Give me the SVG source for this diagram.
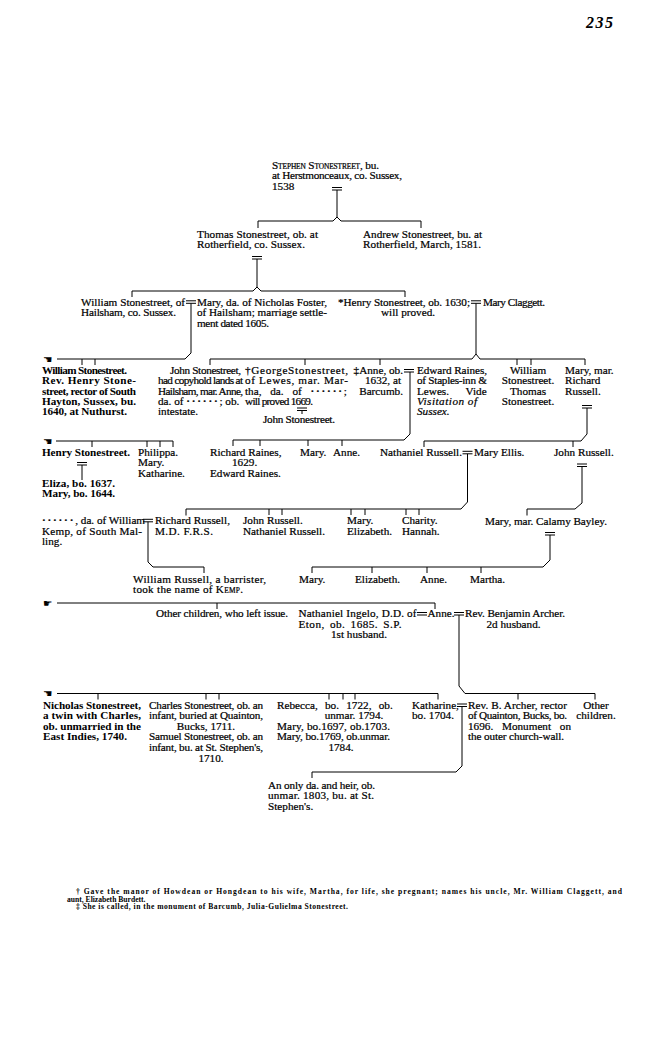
<svg xmlns="http://www.w3.org/2000/svg" xmlns:xlink="http://www.w3.org/1999/xlink" width="650" height="1040" viewBox="0 0 650 1040">
<style>
text { font-family: "Liberation Serif", "Times New Roman", serif; font-size: 11.2px; fill: #000; stroke: #000; stroke-width: 0.22px; }
.b { font-weight: bold; stroke-width: 0; }
.i { font-style: italic; }
.m { text-anchor: middle; }
.e { text-anchor: end; }
.sc { font-size: 7.4px; }
.dots { letter-spacing: 1.8px; font-weight: bold; }
.fn { font-size: 7.6px; font-weight: bold; stroke-width: 0; }
.pg { font-size: 16px; font-weight: bold; font-style: italic; stroke-width: 0; }
.hand { font-family: "DejaVu Sans", sans-serif; font-size: 10.5px; stroke-width: 0; }
#connectors path { stroke: #000; stroke-width: 1; fill: none; }
</style>
<defs>
<path id="eq" d="M0,0 H10 M0,2.5 H10" stroke="#000" stroke-width="1" fill="none"/>
</defs>
<rect width="650" height="1040" fill="#fff"/>
<text class="pg" x="586" y="28" textLength="27">235</text>

<g id="connectors">
<use xlink:href="#eq" x="332" y="187.5"/>
<path d="M337,190 V217"/>
<path d="M258,228 V221 H333 L337,217 L341,221 H421 V228"/>
<use xlink:href="#eq" x="252" y="256.5"/>
<path d="M257,259 V287"/>
<path d="M132,297 V291 H253 L257,287 L261,291 H405 V297"/>
<use xlink:href="#eq" x="186" y="300.8"/>
<path d="M191,303.3 V353 L185,359 H57"/>
<path d="M82,359 V365 M95,359 V365"/>
<use xlink:href="#eq" x="471" y="300.8"/>
<path d="M476,303.3 V354"/>
<path d="M210,365 V359 H472 L476,354 L480,359 H585 V365"/>
<path d="M305,359 V365 M380,359 V365 M517,359 V365 M531,359 V365"/>
<use xlink:href="#eq" x="297" y="408"/>
<path d="M302,410.5 V414"/>
<use xlink:href="#eq" x="404" y="369.5"/>
<path d="M410,372 V434 L404,440 H233 V446"/>
<path d="M260,440 V446 M308,440 V446 M342,440 V446"/>
<use xlink:href="#eq" x="582" y="405.5"/>
<path d="M587,408 V434 L581,441 H424 V447"/>
<path d="M573,441 V447"/>
<path d="M56,441 H173 V447 M92,441 V447 M147,441 V447 M160,441 V447"/>
<use xlink:href="#eq" x="77" y="462.5"/>
<path d="M82,465 V480"/>
<use xlink:href="#eq" x="462.5" y="451.3"/>
<path d="M467.5,453.8 V502 L461,509 H186 V515.5"/>
<path d="M269,509 V515 M282,509 V515 M351,509 V515 M365,509 V515 M406,509 V515 M419,509 V515"/>
<use xlink:href="#eq" x="577" y="464"/>
<path d="M582,466.5 V503 L575,509 H527 V515.5"/>
<use xlink:href="#eq" x="143" y="519.3"/>
<path d="M148,521.8 V562 L153,567 H204 V573"/>
<use xlink:href="#eq" x="545" y="532.5"/>
<path d="M550,535 V560 L543,567 H312 V573"/>
<path d="M372,567 V573 M427,567 V573 M481,567 V573"/>
<path d="M57,603 H435 V609 M217,603 V609"/>
<use xlink:href="#eq" x="417" y="612.5"/>
<use xlink:href="#eq" x="454" y="612.5"/>
<path d="M459,615 V686 L465,693.5 H595 V699.5 M518,693.5 V699.5"/>
<path d="M57,693.5 H438 V699.5 M98,693.5 V699.5 M206,693.5 V699.5 M219,693.5 V699.5 M329,693.5 V699.5 M343,693.5 V699.5 M355,693.5 V699.5"/>
<use xlink:href="#eq" x="457" y="704"/>
<path d="M462,706.5 V766 L456,772 H312 V778"/>
</g>

<g id="hands">
<text class="hand" x="43" y="362.5">☚</text>
<text class="hand" x="43" y="444.5">☚</text>
<text class="hand" x="43" y="606.5">☛</text>
<text class="hand" x="43" y="697">☚</text>
</g>

<g id="stephen">
<text x="272" y="168.5" textLength="107">S<tspan class="sc">TEPHEN</tspan> S<tspan class="sc">TONESTREET</tspan>, bu.</text>
<text x="272" y="179" textLength="130">at Herstmonceaux, co. Sussex,</text>
<text x="272" y="189.5">1538</text>
</g>
<g id="thomas">
<text x="197" y="237.5" textLength="121">Thomas Stonestreet, ob. at</text>
<text x="197" y="248" textLength="108">Rotherfield, co. Sussex.</text>
</g>
<g id="andrew">
<text x="363" y="237.5" textLength="119">Andrew Stonestreet, bu. at</text>
<text x="363" y="248" textLength="118">Rotherfield, March, 1581.</text>
</g>

<g id="william">
<text x="81" y="305.5" textLength="104">William Stonestreet, of</text>
<text x="81" y="316" textLength="95">Hailsham, co. Sussex.</text>
</g>
<g id="mary-foster">
<text x="197" y="305.5" textLength="130">Mary, da. of Nicholas Foster,</text>
<text x="197" y="316" textLength="130">of Hailsham; marriage settle-</text>
<text x="197" y="326.5" textLength="72">ment dated 1605.</text>
</g>
<g id="henry">
<text x="338" y="305.5" textLength="132">*Henry Stonestreet, ob. 1630;</text>
<text x="381" y="316">will proved.</text>
</g>
<g id="mary-claggett">
<text x="483" y="305.5" textLength="62">Mary Claggett.</text>
</g>

<g id="william-rev-henry">
<text class="b" x="42" y="374" textLength="85">William Stonestreet.</text>
<text class="b" x="42" y="384.3" textLength="94">Rev. Henry Stone-</text>
<text class="b" x="42" y="394.6" textLength="94">street, rector of South</text>
<text class="b" x="42" y="404.9" textLength="94">Hayton, Sussex, bu.</text>
<text class="b" x="42" y="415.2" textLength="85">1640, at Nuthurst.</text>
</g>
<g id="john">
<text x="170" y="374" textLength="71">John Stonestreet,</text>
<text x="158" y="384.3" textLength="85">had copyhold lands at</text>
<text x="158" y="394.6" textLength="85">Hailsham, mar. Anne,</text>
<text x="158" y="404.9">da. of <tspan class="dots">······</tspan>; ob.</text>
<text x="158" y="415.2">intestate.</text>
</g>
<g id="george">
<text x="245" y="374" textLength="103">†GeorgeStonestreet,</text>
<text x="245" y="384.3" textLength="103">of Lewes, mar. Mar-</text>
<text x="245" y="394.6" word-spacing="6">tha, da. of <tspan class="dots">······</tspan>;</text>
<text x="245" y="404.9" textLength="68">will proved 1669.</text>
</g>
<g id="john-2">
<text x="263" y="423" textLength="72">John Stonestreet.</text>
</g>
<g id="anne">
<text class="e" x="403" y="374">‡Anne, ob.</text>
<text class="e" x="401" y="384.3">1632, at</text>
<text class="e" x="403" y="394.6">Barcumb.</text>
</g>
<g id="edward-raines">
<text x="417" y="374" textLength="70">Edward Raines,</text>
<text x="417" y="384.3" textLength="70">of Staples-inn &amp;</text>
<text x="417" y="394.6" word-spacing="14">Lewes. Vide</text>
<text class="i" x="417" y="404.9" textLength="60">Visitation of</text>
<text class="i" x="417" y="415.2">Sussex.</text>
</g>
<g id="william-thomas">
<text class="m" x="528" y="374">William</text>
<text class="m" x="528" y="384.3">Stonestreet.</text>
<text class="m" x="528" y="394.6">Thomas</text>
<text class="m" x="528" y="404.9">Stonestreet.</text>
</g>
<g id="mary-russell">
<text x="565" y="374">Mary, mar.</text>
<text x="565" y="384.3">Richard</text>
<text x="565" y="394.6">Russell.</text>
</g>

<g id="henry-2">
<text class="b" x="42" y="455.5" textLength="88">Henry Stonestreet.</text>
</g>
<g id="philippa">
<text x="138" y="455.5">Philippa.</text>
<text x="138" y="466">Mary.</text>
<text x="138" y="476.5">Katharine.</text>
</g>
<g id="eliza">
<text class="b" x="42" y="486.5" textLength="73">Eliza, bo. 1637.</text>
<text class="b" x="42" y="497" textLength="73">Mary, bo. 1644.</text>
</g>
<g id="richard-raines">
<text x="210" y="455.5">Richard Raines,</text>
<text x="232" y="466">1629.</text>
<text x="210" y="476.5">Edward Raines.</text>
</g>
<g id="mary-anne">
<text x="300" y="455.5">Mary.</text>
<text x="333" y="455.5">Anne.</text>
</g>
<g id="nathaniel-russell">
<text x="380" y="455.5" textLength="82">Nathaniel Russell.</text>
</g>
<g id="mary-ellis">
<text x="474" y="455.5">Mary Ellis.</text>
</g>
<g id="john-russell">
<text x="554" y="455.5">John Russell.</text>
</g>

<g id="kemp">
<text x="42" y="524"><tspan class="dots">······</tspan>, da. of William</text>
<text x="42" y="534.5" textLength="100">Kemp, of South Mal-</text>
<text x="42" y="545">ling.</text>
</g>
<g id="richard-russell">
<text x="155" y="524" textLength="75">Richard Russell,</text>
<text x="155" y="534.5" textLength="58">M.D. F.R.S.</text>
</g>
<g id="john-nathaniel">
<text x="243" y="524">John Russell.</text>
<text x="243" y="534.5">Nathaniel Russell.</text>
</g>
<g id="mary-elizabeth">
<text x="347" y="524">Mary.</text>
<text x="347" y="534.5">Elizabeth.</text>
</g>
<g id="charity-hannah">
<text x="402" y="524">Charity.</text>
<text x="402" y="534.5">Hannah.</text>
</g>
<g id="mary-bayley">
<text x="485" y="524.5" textLength="122">Mary, mar. Calamy Bayley.</text>
</g>

<g id="william-russell">
<text x="133" y="582.5" textLength="133">William Russell, a barrister,</text>
<text x="133" y="593" textLength="110">took the name of K<tspan class="sc">EMP</tspan>.</text>
</g>
<g id="bayley-children">
<text x="299" y="582.5">Mary.</text>
<text x="355" y="582.5">Elizabeth.</text>
<text x="420" y="582.5">Anne.</text>
<text x="470" y="582.5">Martha.</text>
</g>

<g id="other-children-1">
<text x="156" y="617" textLength="132">Other children, who left issue.</text>
</g>
<g id="ingelo">
<text x="298.5" y="617" textLength="118">Nathaniel Ingelo, D.D. of</text>
<text x="298.5" y="627.5" word-spacing="2" textLength="103">Eton, ob. 1685.   S.P.</text>
<text x="331" y="638">1st husband.</text>
</g>
<g id="anne-2">
<text x="427.5" y="617">Anne.</text>
</g>
<g id="benjamin-archer">
<text x="465" y="617" textLength="100">Rev. Benjamin Archer.</text>
<text x="486.5" y="627.5">2d husband.</text>
</g>

<g id="nicholas">
<text class="b" x="43" y="708.5" textLength="98">Nicholas Stonestreet,</text>
<text class="b" x="43" y="719.1" textLength="98">a twin with Charles,</text>
<text class="b" x="43" y="729.7" textLength="98">ob. unmarried in the</text>
<text class="b" x="43" y="740.3" textLength="84">East Indies, 1740.</text>
</g>
<g id="charles-samuel">
<text x="149" y="708.5" textLength="114">Charles Stonestreet, ob. an</text>
<text x="149" y="719.1" textLength="114">infant, buried at Quainton,</text>
<text class="m" x="206" y="729.7">Bucks, 1711.</text>
<text x="149" y="740.3" textLength="114">Samuel Stonestreet, ob. an</text>
<text x="149" y="750.9" textLength="114">infant, bu. at St. Stephen's,</text>
<text class="m" x="211" y="761.5">1710.</text>
</g>
<g id="rebecca-mary">
<text x="277" y="708.5" word-spacing="4.5">Rebecca, bo. 1722, ob.</text>
<text class="m" x="354" y="719.1">unmar. 1794.</text>
<text x="277" y="729.7" textLength="113">Mary, bo.1697, ob.1703.</text>
<text x="277" y="740.3" textLength="113">Mary, bo.1769, ob.unmar.</text>
<text class="m" x="341" y="750.9">1784.</text>
</g>
<g id="katharine">
<text x="412" y="708.5">Katharine,</text>
<text x="412" y="719.1">bo. 1704.</text>
</g>
<g id="b-archer">
<text x="468" y="708.5" textLength="99">Rev. B. Archer, rector</text>
<text x="468" y="719.1" textLength="99">of Quainton, Bucks, bo.</text>
<text x="468" y="729.7" word-spacing="6">1696. Monument on</text>
<text x="468" y="740.3" textLength="96">the outer church-wall.</text>
</g>
<g id="other-children-2">
<text class="m" x="596" y="708.5">Other</text>
<text class="m" x="596" y="719.1">children.</text>
</g>
<g id="only-daughter">
<text x="268" y="788.5" textLength="107">An only da. and heir, ob.</text>
<text x="268" y="799" textLength="106">unmar. 1803, bu. at St.</text>
<text x="268" y="809.5">Stephen's.</text>
</g>

<g id="footnotes">
<text class="fn" x="76" y="894" textLength="546">† Gave the manor of Howdean or Hongdean to his wife, Martha, for life, she pregnant; names his uncle, Mr. William Claggett, and</text>
<text class="fn" x="67" y="901.5">aunt, Elizabeth Burdett.</text>
<text class="fn" x="76" y="909" textLength="272">‡ She is called, in the monument of Barcumb, Julia-Gulielma Stonestreet.</text>
</g>
</svg>
